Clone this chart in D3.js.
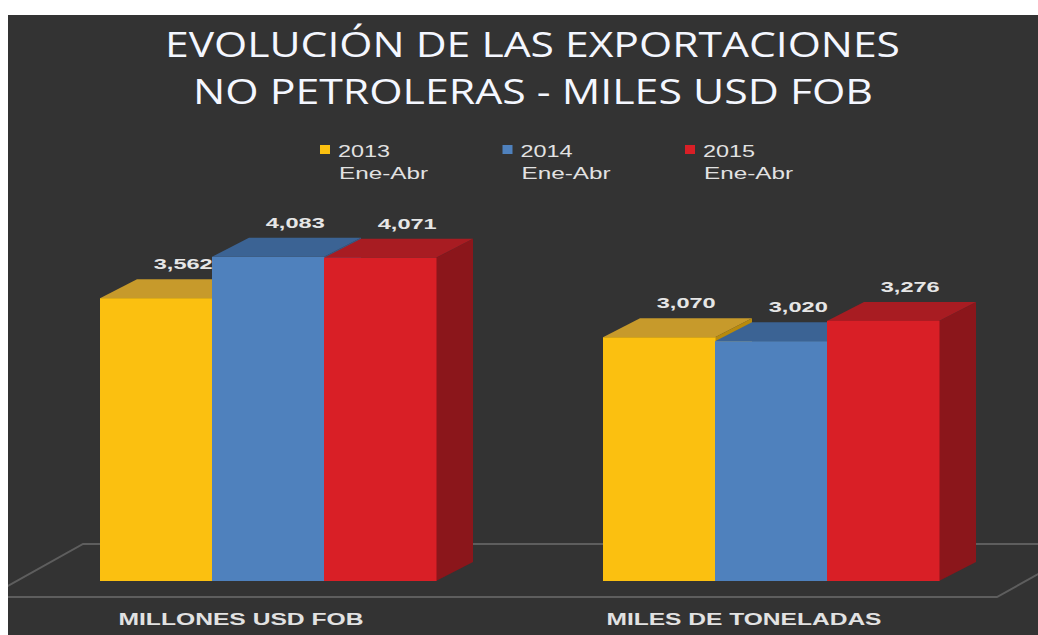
<!DOCTYPE html>
<html>
<head>
<meta charset="utf-8">
<script src="https://cdn.jsdelivr.net/npm/d3@7"></script>
<style>
  body{margin:0;background:#fff;}
  svg{display:block;}
</style>
</head>
<body>
<script>
//begin data
var categories=["MILLONES USD FOB","MILES DE TONELADAS"];
var seriesNames=["2013","2014","2015"];
var seriesPeriod="Ene-Abr";
var values2013=[3562,3070];
var values2014=[4083,3020];
var values2015=[4071,3276];
//end data

var W=1038,H=635;
var depthX=37,depthY=-19;//3d offset of bars
var floorDX=95,floorDY=-53;//3d offset of the floor
var baseY=581;

var colFront=["#FBC010","#4F81BD","#D91F26"];
var colTop=["#C79A2B","#3B6394","#A81C22"];
var colSide=["#B88A0C","#365C8A","#8B161B"];

var svg=d3.select("body").append("svg")
    .attr("width",W)
    .attr("height",H);

svg.append("clipPath")
    .attr("id","panel")
    .append("rect")
    .attr("x",8)
    .attr("y",15)
    .attr("width",W-8)
    .attr("height",H-15);

//dark panel, white margin top and left
svg.append("rect")
    .attr("x",8)
    .attr("y",15)
    .attr("width",W-8)
    .attr("height",H-15)
    .attr("fill","#333333");

var plot=svg.append("g")
    .attr("clip-path","url(#panel)");

//title
var title=[{t:"EVOLUCIÓN DE LAS EXPORTACIONES",x:165,y:57,len:735},
           {t:"NO PETROLERAS - MILES USD FOB",x:193,y:104,len:680}];
svg.selectAll("text.title")
    .data(title)
    .enter().append("text")
    .attr("class","title")
    .attr("x",function(d){return d.x;})
    .attr("y",function(d){return d.y;})
    .attr("textLength",function(d){return d.len;})
    .attr("lengthAdjust","spacingAndGlyphs")
    .style("font-family","'Open Sans',sans-serif")
    .style("font-weight","500")
    .style("font-size","34px")
    .style("fill","#f4f7ff")
    .text(function(d){return d.t;});

//scales
var x0=d3.scaleBand()
    .domain(categories)
    .range([16.5,1022.5])
    .paddingInner(0.332)
    .paddingOuter(0.166);
var x1=d3.scaleBand()
    .domain(seriesNames)
    .range([0,x0.bandwidth()])
    .padding(0);
var y=d3.scaleLinear()
    .domain([0,5000])
    .range([baseY,baseY-5000*0.0794]);

//floor
var fl=x0.range()[0]+66.5,fr=x0.range()[1]-25.5,fy=597;
plot.append("path")
    .attr("d","M"+(fl-floorDX)+","+fy+"L"+fr+","+fy+"L"+(fr+floorDX)+","+(fy+floorDY)+"L"+fl+","+(fy+floorDY)+"Z")
    .attr("fill","none")
    .attr("stroke","#5e5e5e")
    .attr("stroke-width",2);

//bars
var bars=[];
categories.forEach(function(c,i){
    [values2013,values2014,values2015].forEach(function(arr,j){
        bars.push({cat:c,ser:seriesNames[j],k:j,v:arr[i]});
    });
});

var g=plot.selectAll("g.bar")
    .data(bars)
    .enter().append("g")
    .attr("class","bar");

function px(d){return x0(d.cat)+x1(d.ser);}
var bw=x1.bandwidth();

g.append("path")//side
    .attr("d",function(d){
        var a=px(d)+bw,t=y(d.v);
        return "M"+a+","+t+"L"+(a+depthX)+","+(t+depthY)+"L"+(a+depthX)+","+(baseY+depthY)+"L"+a+","+baseY+"Z";
    })
    .attr("fill",function(d){return colSide[d.k];});
g.append("path")//top
    .attr("d",function(d){
        var a=px(d),t=y(d.v);
        return "M"+a+","+t+"L"+(a+bw)+","+t+"L"+(a+bw+depthX)+","+(t+depthY)+"L"+(a+depthX)+","+(t+depthY)+"Z";
    })
    .attr("fill",function(d){return colTop[d.k];});
g.append("rect")//front
    .attr("x",function(d){return px(d);})
    .attr("y",function(d){return y(d.v);})
    .attr("width",bw+0.5)
    .attr("height",function(d){return baseY-y(d.v);})
    .attr("fill",function(d){return colFront[d.k];});

//value labels
var fmt=d3.format(",");
svg.selectAll("text.val")
    .data(bars)
    .enter().append("text")
    .attr("class","val")
    .attr("x",function(d){return px(d)+bw/2+depthX*0.75-30;})
    .attr("y",function(d){return y(d.v)+depthY-10;})
    .attr("textLength",59)
    .attr("lengthAdjust","spacingAndGlyphs")
    .style("font-family","'Liberation Sans',Arial,sans-serif")
    .style("font-weight","bold")
    .style("font-size","15px")
    .style("fill","#e6e6e6")
    .text(function(d){return fmt(d.v);});

//category labels
var catLen=[245,275];
svg.selectAll("text.cat")
    .data(categories)
    .enter().append("text")
    .attr("class","cat")
    .attr("x",function(d,i){return x0(d)+x0.bandwidth()/2-27-catLen[i]/2;})
    .attr("y",625)
    .attr("textLength",function(d,i){return catLen[i];})
    .attr("lengthAdjust","spacingAndGlyphs")
    .style("font-family","'Liberation Sans',Arial,sans-serif")
    .style("font-weight","bold")
    .style("font-size","16px")
    .style("fill","#e2e2e2")
    .text(function(d){return d;});

//legend
var leg=svg.selectAll("g.leg")
    .data(seriesNames)
    .enter().append("g")
    .attr("class","leg")
    .attr("transform",function(d,i){return "translate("+(320+i*182.5)+",145)";});
leg.append("rect")
    .attr("width",10)
    .attr("height",9)
    .attr("fill",function(d,i){return colFront[i];});
leg.append("text")
    .attr("x",18)
    .attr("y",12)
    .attr("textLength",52)
    .attr("lengthAdjust","spacingAndGlyphs")
    .style("font-family","'Liberation Sans',Arial,sans-serif")
    .style("font-size","16px")
    .style("fill","#e2e2e2")
    .text(function(d){return d;});
leg.append("text")
    .attr("x",19)
    .attr("y",34)
    .attr("textLength",89)
    .attr("lengthAdjust","spacingAndGlyphs")
    .style("font-family","'Liberation Sans',Arial,sans-serif")
    .style("font-size","16px")
    .style("fill","#e2e2e2")
    .text(seriesPeriod);
</script>
</body>
</html>
